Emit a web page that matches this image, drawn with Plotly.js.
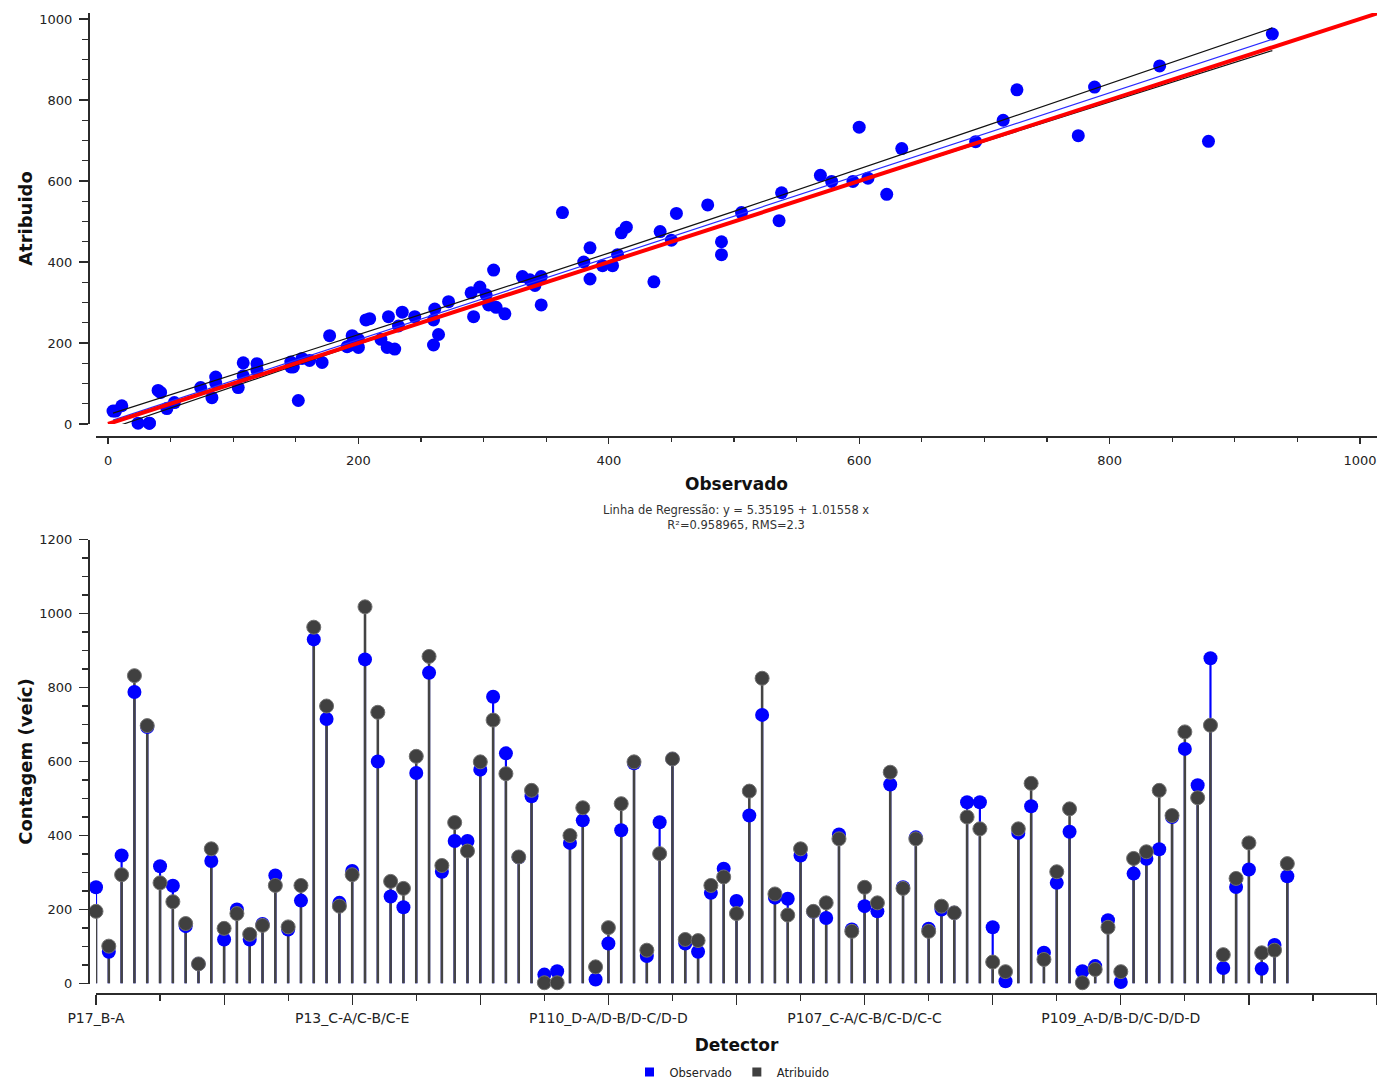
<!DOCTYPE html>
<html>
<head>
<meta charset="utf-8">
<script src="https://cdn.plot.ly/plotly-3.0.1.min.js"></script>
<style>html,body{margin:0;padding:0;background:#fff;}</style>
</head>
<body>
<div id="chart" style="width:1377px;height:1079px;"></div>
<script>
// ---------------- DATA ----------------
// Observed counts per detector (blue)
const observado = [
  260, 86, 346, 788, 693, 317, 264, 155, 53, 331,
  119, 200, 119, 161, 292, 146, 224, 930, 715, 218,
  304, 876, 600, 235, 206, 569, 840, 302, 385, 385,
  578, 775, 622, 341, 506, 24, 33, 380, 441, 11,
  108, 414, 595, 74, 436, 607, 108, 86, 245, 310,
  223, 454, 726, 232, 229, 346, 194, 177, 403, 146,
  209, 195, 538, 260, 395, 148, 200, 191, 490, 490,
  152, 6, 407, 479, 83, 272, 410, 33, 47, 171,
  4, 297, 337, 363, 450, 634, 536, 879, 42, 261,
  308, 40, 104, 290
];
// Assigned counts per detector (dark grey)
const atribuido = [
  195, 101, 294, 832, 697, 272, 221, 162, 53, 364,
  149, 189, 133, 157, 265, 153, 265, 963, 750, 209,
  294, 1018, 733, 276, 257, 614, 884, 319, 435, 358,
  599, 712, 567, 342, 522, 2, 2, 400, 475, 45,
  151, 486, 599, 90, 351, 607, 119, 116, 265, 288,
  189, 520, 825, 242, 185, 364, 195, 218, 391, 141,
  260, 218, 571, 257, 391, 141, 209, 191, 450, 418,
  58, 32, 418, 541, 65, 302, 472, 2, 38, 152,
  32, 338, 356, 522, 454, 680, 502, 698, 78, 284,
  380, 83, 90, 324
];
// Labelled detectors (category position -> name)
const labelPositions = [0, 20, 40, 60, 80];
const labelNames = ['P17_B-A', 'P13_C-A/C-B/C-E', 'P110_D-A/D-B/D-C/D-D', 'P107_C-A/C-B/C-D/C-C', 'P109_A-D/B-D/C-D/D-D'];
// Regression results
const regIntercept = 5.35195;
const regSlope = 1.01558;
const regR2 = 0.958965;
const regRMS = 2.3;
// Confidence band
const bandX = [4, 150, 330, 500, 700, 930];
const bandUpper = [27, 171, 351, 525, 735, 978];
const bandLower = [-9, 145, 331, 501, 697, 922];
// Identity (y = x) line extent
const identityX = [0, 1020];

// ---------------- BUILD ----------------
const idx = observado.map((_, i) => i);
const minObs = Math.min(...observado), maxObs = Math.max(...observado);
const regX = [minObs, maxObs];
const regY = regX.map(v => regIntercept + regSlope * v);

const FONT = 'DejaVu Sans, Verdana, sans-serif';
const TXT = '#222222';
const BLUE = '#0000ff';
const GREY = '#404040';

const traces = [
  // ---- top scatter ----
  {type:'scatter', mode:'markers', x: observado, y: atribuido, xaxis:'x', yaxis:'y',
   marker:{color:BLUE, size:13}, showlegend:false, cliponaxis:false, hoverinfo:'x+y'},
  {type:'scatter', mode:'lines', x: bandX, y: bandUpper, xaxis:'x', yaxis:'y',
   line:{color:'#111', width:1.2, shape:'spline'}, showlegend:false, hoverinfo:'skip'},
  {type:'scatter', mode:'lines', x: bandX, y: bandLower, xaxis:'x', yaxis:'y',
   line:{color:'#111', width:1.2, shape:'spline'}, showlegend:false, hoverinfo:'skip'},
  {type:'scatter', mode:'lines', x: regX, y: regY, xaxis:'x', yaxis:'y',
   line:{color:'#2a2aff', width:1.2}, showlegend:false, hoverinfo:'skip'},
  {type:'scatter', mode:'lines', x: identityX, y: identityX, xaxis:'x', yaxis:'y',
   line:{color:'#ff0000', width:4}, showlegend:false, hoverinfo:'skip'},

  // ---- bottom lollipop: stems ----
  {type:'bar', x: idx, y: observado, xaxis:'x2', yaxis:'y2', width:0.17,
   marker:{color:BLUE, line:{width:0}}, showlegend:false, hoverinfo:'skip'},
  {type:'bar', x: idx, y: atribuido, xaxis:'x2', yaxis:'y2', width:0.2,
   marker:{color:'#444444', line:{width:0}}, showlegend:false, hoverinfo:'skip'},
  // ---- bottom lollipop: heads ----
  {type:'scatter', mode:'markers', x: idx, y: observado, xaxis:'x2', yaxis:'y2',
   marker:{color:BLUE, size:14, line:{width:0}}, showlegend:false, cliponaxis:false, name:'Observado'},
  {type:'scatter', mode:'markers', x: idx, y: atribuido, xaxis:'x2', yaxis:'y2',
   marker:{color:GREY, size:14, line:{width:1, color:'#707070'}}, showlegend:false, cliponaxis:false, name:'Atribuido'},
  // ---- legend entries ----
  {type:'scatter', mode:'markers', x:[null], y:[null], xaxis:'x2', yaxis:'y2', name:'Observado',
   marker:{color:BLUE, symbol:'square', size:9}, showlegend:true},
  {type:'scatter', mode:'markers', x:[null], y:[null], xaxis:'x2', yaxis:'y2', name:'Atribuido',
   marker:{color:GREY, symbol:'square', size:9}, showlegend:true}
];

// bottom tick values: majors every 10, labels at named positions
const bottomTickVals = [];
const bottomTickText = [];
for (let v = 0; v <= 100; v += 10) {
  bottomTickVals.push(v);
  const k = labelPositions.indexOf(v);
  bottomTickText.push(k >= 0 ? labelNames[k] : '');
}

const W = 1377, H = 1079;
const axisLine = {showline:true, linecolor:'#2b2b2b', linewidth:1.5, showgrid:false, zeroline:false,
  ticks:'outside', tickcolor:'#2b2b2b', tickwidth:1.2, automargin:false,
  tickfont:{family:FONT, size:13, color:TXT}};
const titleFont = {family:FONT, size:17, color:'#111', weight:700};

const layout = {
  width: W, height: H,
  margin:{l:0, r:0, t:0, b:0, autoexpand:false},
  paper_bgcolor:'#ffffff', plot_bgcolor:'#ffffff',
  barmode:'overlay',
  showlegend:true,
  legend:{orientation:'h', x:732/W, xanchor:'center', y:1 - 1072/H, yanchor:'middle',
    font:{family:FONT, size:11.5, color:TXT}, bgcolor:'rgba(0,0,0,0)', itemwidth:30, tracegroupgap:0},
  xaxis: Object.assign({}, axisLine, {
    domain:[96/W, 1], range:[-9.6, 1013.6], anchor:'free', position: 1 - 436/H,
    tickvals:[0,200,400,600,800,1000], ticklen:6, ticklabelstandoff:6,
    minor:{dtick:50, ticklen:4, ticks:'outside', tickcolor:'#2b2b2b'},
    title:{text:'Observado', font:titleFont, standoff:11}
  }),
  yaxis: Object.assign({}, axisLine, {
    domain:[1 - 424/H, 1 - 13/H], range:[0, 1014.8], anchor:'free', position: 88/W,
    tickvals:[0,200,400,600,800,1000], ticklen:9, ticklabelstandoff:4,
    minor:{dtick:50, ticklen:6, ticks:'outside', tickcolor:'#2b2b2b'},
    title:{text:'Atribuido', font:Object.assign({}, titleFont, {size:18}), standoff:0}
  }),
  xaxis2: Object.assign({}, axisLine, {
    domain:[96/W, 1], range:[0, 100], anchor:'free', position: 1 - 993/H,
    tickvals: bottomTickVals, ticktext: bottomTickText, ticklen:10, ticklabelstandoff:2,
    tickfont:{family:FONT, size:14, color:TXT},
    minor:{dtick:5, ticklen:6, ticks:'outside', tickcolor:'#2b2b2b'},
    title:{text:'Detector', font:titleFont, standoff:14}
  }),
  yaxis2: Object.assign({}, axisLine, {
    domain:[1 - 983.5/H, 1 - 539.5/H], range:[0, 1200], anchor:'free', position: 88/W,
    tickvals:[0,200,400,600,800,1000,1200], ticklen:9, ticklabelstandoff:4,
    minor:{dtick:50, ticklen:6, ticks:'outside', tickcolor:'#2b2b2b'},
    title:{text:'Contagem (veíc)', font:Object.assign({}, titleFont, {size:18}), standoff:0}
  }),
  annotations:[{
    xref:'paper', yref:'paper', x: 735.5/W, y: 1 - 517.5/H, xanchor:'center', yanchor:'middle',
    showarrow:false, align:'center',
    text: 'Linha de Regressão: y = ' + regIntercept + ' + ' + regSlope + ' x<br>R²=' + regR2 + ', RMS=' + regRMS,
    font:{family:FONT, size:11.5, color:'#333'}
  }]
};

Plotly.newPlot('chart', traces, layout, {staticPlot:true, displayModeBar:false});
</script>
</body>
</html>
